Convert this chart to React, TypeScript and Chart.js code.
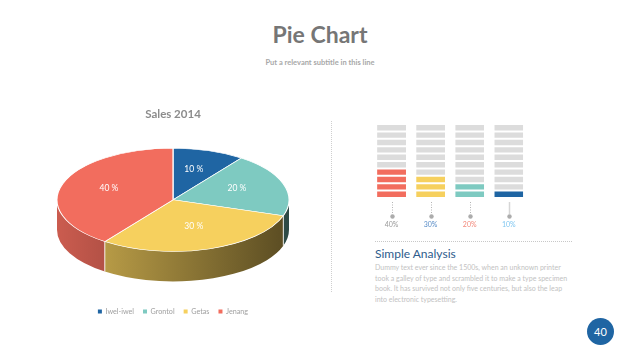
import React, { useEffect, useRef } from "react";
import { Chart, registerables } from "chart.js";

Chart.register(...registerables);

// ---------- data ----------
const pieTitle = "Sales 2014";
const pieLabels = ["Iwel-iwel", "Grontol", "Getas", "Jenang"];
const pieValues = [10, 20, 30, 40];
const pieColors = ["#1F65A3", "#7ECAC1", "#F6D05E", "#F26D5E"];

const barCategories = ["Jenang", "Getas", "Grontol", "Iwel-iwel"];
const barShares = [40, 30, 20, 10];
const barTickLabels = ["40%", "30%", "20%", "10%"];
const barColors = ["#F26D5E", "#F6D05E", "#7ECAC1", "#1F65A3"];
const barTickColors = ["#9a9a9a", "#5b8ec8", "#f3897b", "#7fc6f0"];
const segmentCount = 10;

const FONT = "Lato, 'Open Sans', sans-serif";

function shade(hex: string, f: number) {
  const n = parseInt(hex.slice(1), 16);
  const r = Math.round(((n >> 16) & 255) * f);
  const g = Math.round(((n >> 8) & 255) * f);
  const b = Math.round((n & 255) * f);
  return `rgb(${r},${g},${b})`;
}

const pie3d = {
  id: "pie3d",
  beforeDatasetsDraw(chart: any, _args: any, opts: any) {
    const meta = chart.getDatasetMeta(0);
    const arcs = meta.data;
    chart.$p3d = null;
    if (!arcs.length) return;
    const { x, y, outerRadius } = arcs[0].getProps(["x", "y", "outerRadius"], true);
    const k = opts.tilt;
    const depth = opts.depth;
    const cy = y - depth / 2;
    const rx = outerRadius;
    const ry = outerRadius * k;
    const ctx = chart.ctx;
    const colors = chart.data.datasets[0].backgroundColor;
    ctx.save();
    arcs.forEach((arc: any, i: number) => {
      const { startAngle, endAngle } = arc.getProps(["startAngle", "endAngle"], true);
      const a = Math.max(startAngle, 0);
      const b = Math.min(endAngle, Math.PI);
      if (b <= a) return;
      const g = ctx.createLinearGradient(x - rx, 0, x + rx, 0);
      g.addColorStop(0, shade(colors[i], 0.84));
      g.addColorStop(1, shade(colors[i], 0.36));
      ctx.beginPath();
      ctx.ellipse(x, cy, rx, ry, 0, a, b, false);
      ctx.ellipse(x, cy + depth, rx, ry, 0, b, a, true);
      ctx.closePath();
      ctx.fillStyle = g;
      ctx.fill();
    });
    ctx.strokeStyle = "rgba(255,255,255,0.85)";
    ctx.lineWidth = 1;
    arcs.forEach((arc: any) => {
      const { startAngle } = arc.getProps(["startAngle"], true);
      const ang = startAngle;
      if (ang > 0 && ang < Math.PI) {
        const px = x + Math.cos(ang) * rx;
        const py = cy + Math.sin(ang) * ry;
        ctx.beginPath();
        ctx.moveTo(px, py);
        ctx.lineTo(px, py + depth);
        ctx.stroke();
      }
    });
    ctx.restore();
    ctx.save();
    ctx.translate(x, cy);
    ctx.scale(1, k);
    ctx.translate(-x, -y);
    chart.$p3d = { x, cy, rx, ry, k };
  },
  afterDatasetsDraw(chart: any, _args: any, opts: any) {
    const st = chart.$p3d;
    if (!st) return;
    const ctx = chart.ctx;
    ctx.restore();
    const meta = chart.getDatasetMeta(0);
    const data = chart.data.datasets[0].data as number[];
    const total = data.reduce((s, v) => s + v, 0);
    ctx.save();
    ctx.fillStyle = opts.labelColor;
    ctx.font = `${opts.labelSize}px ${FONT}`;
    ctx.textAlign = "center";
    ctx.textBaseline = "middle";
    meta.data.forEach((arc: any, i: number) => {
      const { startAngle, endAngle } = arc.getProps(["startAngle", "endAngle"], true);
      const mid = (startAngle + endAngle) / 2;
      const r = opts.labelRadius;
      const lx = st.x + Math.cos(mid) * st.rx * r;
      const ly = st.cy + Math.sin(mid) * st.ry * r - opts.labelLift;
      ctx.fillText(`${Math.round((data[i] / total) * 100)} %`, lx, ly);
    });
    ctx.restore();
  },
};

const connectors = {
  id: "connectors",
  afterDraw(chart: any, _args: any, opts: any) {
    const xs = chart.scales.x;
    const ctx = chart.ctx;
    const top = chart.chartArea.bottom + opts.gap;
    xs.ticks.forEach((_t: any, i: number) => {
      const px = Math.round(xs.getPixelForTick(i)) + 0.5;
      ctx.save();
      const solid = opts.solid[i];
      ctx.strokeStyle = solid ? "#d6d6d6" : "#b4b4b4";
      ctx.lineWidth = solid ? 1.5 : 1;
      ctx.setLineDash(solid ? [] : [1, 1.5]);
      ctx.beginPath();
      ctx.moveTo(px, top);
      ctx.lineTo(px, top + opts.length);
      ctx.stroke();
      ctx.setLineDash([]);
      ctx.fillStyle = "#acacac";
      ctx.beginPath();
      ctx.arc(px, top + opts.length + 2.5, 2.2, 0, Math.PI * 2);
      ctx.fill();
      ctx.restore();
    });
  },
};

function PieChart() {
  const ref = useRef<HTMLCanvasElement>(null);
  useEffect(() => {
    if (!ref.current) return;
    const chart = new Chart(ref.current, {
      type: "pie",
      data: {
        labels: pieLabels,
        datasets: [
          {
            data: pieValues,
            backgroundColor: pieColors,
            borderColor: "#ffffff",
            borderWidth: 1.2,
            radius: 116,
            clip: false,
          } as any,
        ],
      },
      options: {
        responsive: false,
        animation: false,
        events: [],
        layout: { padding: { bottom: 5 } },
        plugins: {
          title: {
            display: true,
            text: pieTitle,
            color: "#8c8c8c",
            font: { size: 11.5, weight: "bold", family: FONT },
            padding: { top: 12, bottom: 10 },
          },
          legend: {
            position: "bottom",
            labels: {
              boxWidth: 4,
              boxHeight: 4,
              padding: 9,
              color: "#a0a0a0",
              font: { size: 7.2, family: FONT },
              generateLabels: (c: any) =>
                (Chart as any).overrides.pie.plugins.legend.labels
                  .generateLabels(c)
                  .map((l: any) => ({ ...l, lineWidth: 0 })),
            },
          },
          tooltip: { enabled: false },
          pie3d: {
            tilt: 0.445,
            depth: 30,
            labelRadius: 0.58,
            labelLift: 2,
            labelSize: 8.5,
            labelColor: "#ffffff",
          },
        } as any,
      },
      plugins: [pie3d],
    });
    return () => chart.destroy();
  }, []);
  return (
    <canvas
      ref={ref}
      width={346}
      height={235}
      style={{ position: "absolute", left: 0, top: 95, width: 346, height: 235 }}
    />
  );
}

function BarsChart() {
  const ref = useRef<HTMLCanvasElement>(null);
  useEffect(() => {
    if (!ref.current) return;
    const step = 100 / segmentCount;
    const datasets = Array.from({ length: segmentCount }, (_, s) => ({
      label: `segment ${s + 1}`,
      data: barShares.map(() => step),
      backgroundColor: barShares.map((v, i) => (s < v / step ? barColors[i] : "#DCDCDC")),
      borderColor: "#ffffff",
      borderWidth: { top: 1, bottom: 1, left: 0, right: 0 },
      borderSkipped: false,
      barPercentage: 0.74,
      categoryPercentage: 1,
    }));
    const chart = new Chart(ref.current, {
      type: "bar",
      data: { labels: barCategories, datasets: datasets as any },
      options: {
        responsive: false,
        animation: false,
        events: [],
        layout: { padding: { left: 12, right: 11, top: 6, bottom: 2 } },
        scales: {
          x: {
            stacked: true,
            grid: { display: false, drawTicks: false },
            border: { display: false },
            afterFit: (scale: any) => {
              scale.height = 36;
            },
            ticks: {
              padding: 23,
              maxRotation: 0,
              font: { size: 7, family: FONT },
              color: (c: any) => barTickColors[c.index],
              callback: (_v: any, i: number) => barTickLabels[i],
            },
          },
          y: { stacked: true, min: 0, max: 100, display: false },
        },
        plugins: {
          legend: { display: false },
          tooltip: { enabled: false },
          connectors: { gap: 4, length: 12, solid: [false, false, false, true] },
        } as any,
      },
      plugins: [connectors],
    });
    return () => chart.destroy();
  }, []);
  return (
    <canvas
      ref={ref}
      width={180}
      height={118}
      style={{ position: "absolute", left: 360, top: 118, width: 180, height: 118 }}
    />
  );
}

export default function App() {
  return (
    <div
      style={{
        position: "absolute",
        left: 0,
        top: 0,
        width: 640,
        height: 360,
        background: "#ffffff",
        overflow: "hidden",
        fontFamily: FONT,
      }}
    >
      <div
        style={{
          position: "absolute",
          left: 0,
          top: 23,
          width: 640,
          textAlign: "center",
          fontSize: 23,
          lineHeight: "23px",
          fontWeight: 700,
          color: "#767676",
        }}
      >
        Pie Chart
      </div>
      <div
        style={{
          position: "absolute",
          left: 0,
          top: 59,
          width: 640,
          textAlign: "center",
          fontSize: 7.5,
          lineHeight: "7.5px",
          fontWeight: 700,
          color: "#a8a8a8",
        }}
      >
        Put a relevant subtitle in this line
      </div>

      <PieChart />

      <div
        style={{
          position: "absolute",
          left: 331,
          top: 121,
          height: 171,
          borderLeft: "1px dotted #cfcfcf",
        }}
      />

      <BarsChart />

      <div
        style={{
          position: "absolute",
          left: 375,
          top: 241,
          width: 197,
          borderTop: "1px dotted #c8c8c8",
        }}
      />
      <div
        style={{
          position: "absolute",
          left: 375,
          top: 248,
          fontSize: 12,
          lineHeight: "12px",
          color: "#2E5C8C",
          whiteSpace: "nowrap",
        }}
      >
        Simple Analysis
      </div>
      <div
        style={{
          position: "absolute",
          left: 375,
          top: 262,
          fontSize: 7,
          lineHeight: "10.7px",
          color: "#c2c2c2",
          whiteSpace: "nowrap",
        }}
      >
        Dummy text ever since the 1500s, when an unknown printer
        <br />
        took a galley of type and scrambled it to make a type specimen
        <br />
        book. It has survived not only five centuries, but also the leap
        <br />
        into electronic typesetting.
      </div>

      <div
        style={{
          position: "absolute",
          left: 587,
          top: 318,
          width: 27,
          height: 27,
          borderRadius: "50%",
          background: "#1F65A3",
          color: "#ffffff",
          fontSize: 11,
          lineHeight: "27px",
          textAlign: "center",
        }}
      >
        40
      </div>
    </div>
  );
}
